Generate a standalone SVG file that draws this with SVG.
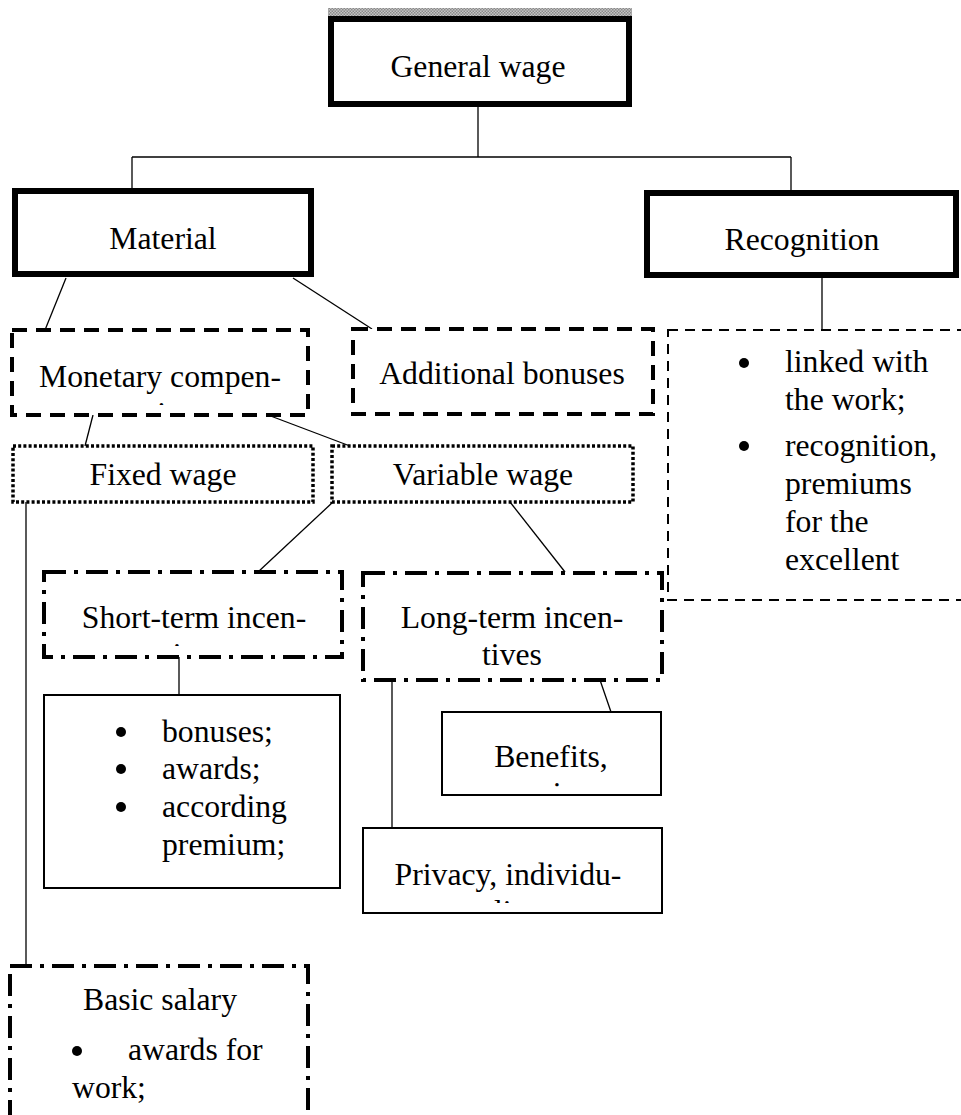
<svg xmlns="http://www.w3.org/2000/svg" width="961" height="1115" viewBox="0 0 961 1115">
<style>
text{font-family:"Liberation Serif","Times New Roman",serif;font-size:31.7px;fill:#000}
.c{text-anchor:middle}
.thick{fill:#fff;stroke:#000;stroke-width:6}
.dash{fill:#fff;stroke:#000;stroke-width:4;stroke-dasharray:15 9}
.tdash{fill:#fff;stroke:#000;stroke-width:2;stroke-dasharray:10 7}
.dot{fill:#fff;stroke:#000;stroke-width:3.5;stroke-dasharray:3 2.2}
.dd{fill:#fff;stroke:#000;stroke-width:4;stroke-dasharray:22 8 4 8}
.solid{fill:#fff;stroke:#000;stroke-width:2}
.conn path{fill:none;stroke:#000;stroke-width:1.3}
</style>
<defs>
<pattern id="hatch" width="3" height="3" patternUnits="userSpaceOnUse">
<rect width="3" height="3" fill="#c4c4c4"/>
<rect width="1.5" height="1.5" fill="#888"/>
<rect x="1.5" y="1.5" width="1.5" height="1.5" fill="#888"/>
</pattern>
<clipPath id="clipMon"><rect x="0" y="330" width="320" height="75"/></clipPath>
<clipPath id="clipShort"><rect x="40" y="572" width="310" height="74"/></clipPath>
<clipPath id="clipBen"><rect x="440" y="712" width="225" height="75"/></clipPath>
<clipPath id="clipPriv"><rect x="360" y="828" width="305" height="75"/></clipPath>
</defs>
<rect width="961" height="1115" fill="#fff"/>

<g class="conn" id="connectors">
<path d="M478 107V157"/>
<path d="M132 157H791"/>
<path d="M132 157V188"/>
<path d="M791 157V190"/>
<path d="M66 278L45 330"/>
<path d="M293 278L372 329"/>
<path d="M822 278V330"/>
<path d="M93 415L85 446"/>
<path d="M268 415L350 446"/>
<path d="M26 502V966"/>
<path d="M333 502L258 572"/>
<path d="M510 502L565 572"/>
<path d="M179 657V695"/>
<path d="M392 680V828"/>
<path d="M600 680L611 712"/>
</g>

<g id="general-wage">
<rect x="328" y="8" width="304" height="8" fill="url(#hatch)"/>
<rect class="thick" x="331" y="19" width="298" height="85"/>
<text class="c" x="478" y="77">General wage</text>
</g>

<g id="material">
<rect class="thick" x="15" y="191" width="296" height="83"/>
<text class="c" x="163" y="249">Material</text>
</g>

<g id="recognition">
<rect class="thick" x="647" y="193" width="309" height="82"/>
<text class="c" x="802" y="250">Recognition</text>
</g>

<g id="recognition-details">
<rect class="tdash" x="668" y="330" width="320" height="270"/>
<circle cx="744" cy="363" r="5"/>
<text x="785" y="372">linked with</text>
<text x="785" y="410">the work;</text>
<circle cx="744" cy="446" r="5"/>
<text x="785" y="456">recognition,</text>
<text x="785" y="494">premiums</text>
<text x="785" y="532">for the</text>
<text x="785" y="570">excellent</text>
</g>

<g id="monetary">
<rect class="dash" x="12" y="330" width="296" height="85"/>
<g clip-path="url(#clipMon)">
<text class="c" x="160" y="387">Monetary compen-</text>
<text class="c" x="160" y="424">sation</text>
</g>
</g>

<g id="additional">
<rect class="dash" x="353" y="329" width="300" height="85"/>
<text class="c" x="502" y="384">Additional bonuses</text>
</g>

<g id="fixed-wage">
<rect class="dot" x="13" y="446" width="300" height="56"/>
<text class="c" x="163" y="485">Fixed wage</text>
</g>

<g id="variable-wage">
<rect class="dot" x="332" y="446" width="301" height="56"/>
<text class="c" x="483" y="485">Variable wage</text>
</g>

<g id="short-term">
<rect class="dd" x="44" y="572" width="298" height="85"/>
<g clip-path="url(#clipShort)">
<text class="c" x="194" y="628">Short-term incen-</text>
<text class="c" x="194" y="665">tives</text>
</g>
</g>

<g id="long-term">
<rect class="dd" x="363" y="573" width="299" height="107"/>
<text class="c" x="512" y="628">Long-term incen-</text>
<text class="c" x="512" y="665">tives</text>
</g>

<g id="bonuses">
<rect class="solid" x="44" y="695" width="296" height="193"/>
<circle cx="121" cy="732" r="5"/>
<text x="162" y="742">bonuses;</text>
<circle cx="121" cy="769" r="5"/>
<text x="162" y="779">awards;</text>
<circle cx="121" cy="807" r="5"/>
<text x="162" y="817">according</text>
<text x="162" y="855">premium;</text>
</g>

<g id="benefits">
<rect class="solid" x="442" y="712" width="219" height="83"/>
<g clip-path="url(#clipBen)">
<text class="c" x="551" y="767">Benefits,</text>
<text class="c" x="551" y="804">services</text>
</g>
</g>

<g id="privacy">
<rect class="solid" x="363" y="828" width="299" height="85"/>
<g clip-path="url(#clipPriv)">
<text class="c" x="508" y="885">Privacy, individu-</text>
<text class="c" x="508" y="922">ality</text>
</g>
</g>

<g id="basic-salary">
<rect class="dd" x="10" y="966" width="298" height="200"/>
<text class="c" x="160" y="1010">Basic salary</text>
<circle cx="77" cy="1051" r="5"/>
<text x="128" y="1060">awards for</text>
<text x="72" y="1098">work;</text>
</g>
</svg>
